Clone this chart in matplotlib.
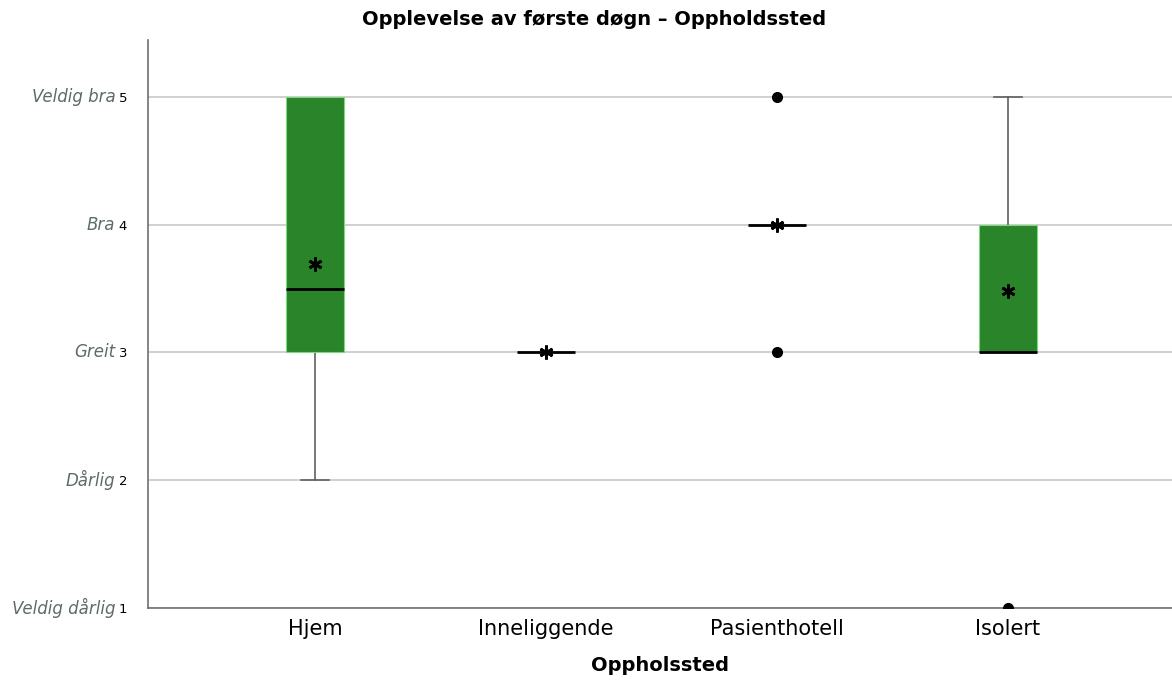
import matplotlib
matplotlib.use("Agg")
import matplotlib.pyplot as plt

# Data
groups = ["Hjem", "Inneliggende", "Pasienthotell", "Isolert"]
q1 = [3, 3, 4, 3]
median = [3.5, 3, 4, 3]
q3 = [5, 3, 4, 4]
whisker_lo = [2, 3, 4, 3]
whisker_hi = [5, 3, 4, 5]
means = [3.69, 3.0, 4.0, 3.48]
outliers = [[], [], [3, 5], [1]]
scale_values = [1, 2, 3, 4, 5]
scale_names = ["Veldig dårlig", "Dårlig", "Greit", "Bra", "Veldig bra"]

stats = []
for i, g in enumerate(groups):
    stats.append(dict(label=g, q1=q1[i], med=median[i], q3=q3[i],
                      whislo=whisker_lo[i], whishi=whisker_hi[i],
                      mean=means[i], fliers=outliers[i]))

fig = plt.figure(figsize=(11.72, 6.86), dpi=100)
ax = fig.add_axes([0.1263, 0.1137, 0.8737, 0.828])

positions = list(range(len(groups)))
parts = ax.bxp(stats, positions=positions, widths=0.25, patch_artist=True,
               showmeans=True, showfliers=True,
               boxprops=dict(facecolor="#2a842a", edgecolor="#7fd87f", linewidth=0.8),
               medianprops=dict(color="black", linewidth=2),
               whiskerprops=dict(color="#606060", linewidth=1.2),
               capprops=dict(color="#606060", linewidth=1.2),
               capwidths=0.12,
               flierprops=dict(marker="o", markerfacecolor="black", markeredgecolor="black", markersize=7),
               meanprops=dict(marker=(6, 2, 0), markeredgecolor="black", markerfacecolor="black",
                              markersize=10, markeredgewidth=2),
               zorder=3)
# hide caps that sit on the box edge (no whisker there)
for i in range(len(groups)):
    if whisker_lo[i] == q1[i]:
        parts["caps"][2 * i].set_visible(False)
    if whisker_hi[i] == q3[i]:
        parts["caps"][2 * i + 1].set_visible(False)
for b in parts["boxes"]:
    b.set_zorder(4)
for m in parts["medians"] + parts["means"] + parts["fliers"]:
    m.set_zorder(5)

ax.set_xlim(-0.723, 3.71)
ax.set_ylim(1, 5.446)

ax.set_yticks(scale_values)
ax.set_yticklabels([str(v) for v in scale_values], fontsize=9.5)
ax.tick_params(axis="y", length=0, pad=15)
ax.tick_params(axis="x", length=0, pad=8, labelsize=15)
ax.set_xticks(positions)
ax.set_xticklabels(groups)

for v, name in zip(scale_values, scale_names):
    ax.text(-0.032, v, name, transform=ax.get_yaxis_transform(), ha="right", va="center",
            fontsize=12, style="italic", color="#5e6b6b")

ax.yaxis.grid(True, color="#c8c8c8", linewidth=1.2, zorder=0)
ax.set_axisbelow(True)
for s in ["top", "right"]:
    ax.spines[s].set_visible(False)
ax.spines["left"].set_color("#707070")
ax.spines["bottom"].set_color("#707070")
ax.spines["left"].set_linewidth(1.2)
ax.spines["bottom"].set_linewidth(1.2)

fig.suptitle("Opplevelse av første døgn – Oppholdssted", x=0.507, y=0.985, va="top",
             fontsize=14, fontweight="bold")
ax.set_xlabel("Oppholssted", fontsize=14, fontweight="bold", labelpad=12)

fig.savefig("out.png", dpi=100)
